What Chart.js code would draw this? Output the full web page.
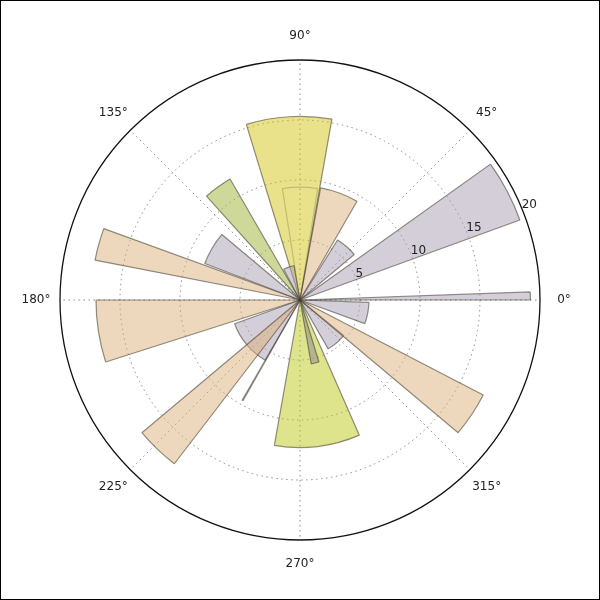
<!DOCTYPE html>
<html>
<head>
<meta charset="utf-8">
<title>Polar bar</title>
<script src="https://cdn.jsdelivr.net/npm/chart.js"></script>
<style>
  html, body { margin: 0; padding: 0; background: #fff; }
  #box { width: 600px; height: 600px; position: relative; }
</style>
</head>
<body>
<div id="box"><canvas id="polarBars"></canvas></div>
<script>
// Dados das barras (ângulo inicial e largura em graus, sentido anti-horário a partir de 0°)
const barStart = [0, 20, 40, 60, 80, 100, 120, 140, 160, 180, 200, 220, 240, 260, 280, 300, 320, 340, 81];
const barWidth = [2, 15.5, 18, 19.6, 27, 18, 12, 19, 9, 17.7, 40, 12.5, 0.5, 33.7, 7, 21, 12.6, 18, 18];
const barValue = [19.2, 19.5, 5.9, 9.5, 15.3, 2.9, 11.65, 8.5, 17.4, 17.0, 5.8, 17.2, 9.65, 12.3, 5.4, 4.7, 17.2, 5.75, 9.4];
// camada: barras que se sobrepõem ficam em outro dataset
const barLayer = [1, 1, 1, 1, 1, 0, 1, 1, 1, 1, 1, 0, 1, 1, 0, 1, 0, 1, 0];

const angleLabels = ['0°', '315°', '270°', '225°', '180°', '135°', '90°', '45°'];
const radialTicks = [5, 10, 15, 20];

// cores (separadas dos dados)
const gray = 'rgba(168,158,178,0.5)';
const peach = 'rgba(222,178,124,0.5)';
const yellow = 'rgba(212,198,22,0.5)';
const yGreen = 'rgba(190,202,26,0.5)';
const green = 'rgba(158,178,50,0.5)';
const dark = 'rgba(140,135,150,0.5)';
const barColors = [gray, gray, gray, peach, yellow, gray, green, gray, peach, peach,
                   gray, peach, gray, yGreen, dark, gray, peach, gray, 'rgba(0,0,0,0)'];
const edge = 'rgba(60,55,40,0.55)';

// monta um dataset com as barras de uma camada, preenchendo os espaços com valor 0
function montarDataset(layer) {
    let barras = [];
    for (let i = 0; i < barStart.length; i++) {
        if (barLayer[i] !== layer) continue;
        // Chart.js gira no sentido horário a partir de 0° (startAngle 90)
        barras.push({
            ini: 360 - barStart[i] - barWidth[i],
            larg: barWidth[i],
            valor: barValue[i],
            cor: barColors[i],
            borda: i === 18 ? 'rgba(60,55,40,0.22)' : edge
        });
    }
    barras.sort(function (a, b) { return a.ini - b.ini; });

    let valores = [], angulos = [], cores = [], bordas = [], larguras = [];
    let cursor = 0;
    barras.forEach(function (b) {
        if (b.ini - cursor > 0.01) {
            valores.push(0); angulos.push(b.ini - cursor);
            cores.push('rgba(0,0,0,0)'); bordas.push('rgba(0,0,0,0)'); larguras.push(0);
        }
        valores.push(b.valor); angulos.push(b.larg);
        cores.push(b.cor); bordas.push(b.borda); larguras.push(1.2);
        cursor = b.ini + b.larg;
    });
    if (360 - cursor > 0.01) {
        valores.push(0); angulos.push(360 - cursor);
        cores.push('rgba(0,0,0,0)'); bordas.push('rgba(0,0,0,0)'); larguras.push(0);
    }
    return {
        data: valores,
        angle: function (ctx) { return angulos[ctx.dataIndex]; },
        backgroundColor: cores,
        borderColor: bordas,
        borderWidth: larguras
    };
}

// rótulos de ângulo e do raio desenhados com as posições da escala
const rotulos = {
    id: 'rotulos',
    afterDraw(chart) {
        const ctx = chart.ctx;
        const scale = chart.scales.r;
        ctx.save();
        ctx.fillStyle = '#222';
        ctx.font = '12px "DejaVu Sans"';
        ctx.textAlign = 'center';
        ctx.textBaseline = 'middle';
        for (let i = 0; i < angleLabels.length; i++) {
            const p = scale.getPointPosition(i, scale.drawingArea * 1.1);
            ctx.fillText(angleLabels[i], p.x, p.y);
        }
        ctx.textAlign = 'left';
        ctx.textBaseline = 'alphabetic';
        radialTicks.forEach(function (v) {
            const d = scale.getDistanceFromCenterForValue(v);
            const p = scale.getPointPosition(0, d, -Math.PI / 8);
            ctx.fillText(String(v), p.x, p.y);
        });
        // moldura da figura
        ctx.strokeStyle = '#000';
        ctx.lineWidth = 1;
        ctx.strokeRect(0.5, 0.5, chart.width - 1, chart.height - 1);
        ctx.restore();
    }
};

const config = {
    type: 'polarArea',
    data: {
        labels: angleLabels,
        datasets: [montarDataset(0), montarDataset(1)]
    },
    options: {
        responsive: true,
        maintainAspectRatio: false,
        animation: false,
        layout: { padding: 60 },
        plugins: {
            legend: { display: false },
            tooltip: { enabled: false }
        },
        scales: {
            r: {
                z: 1,
                min: 0,
                max: 20,
                startAngle: 90,
                ticks: { stepSize: 5, display: false },
                pointLabels: { display: false },
                angleLines: {
                    display: true,
                    color: '#8a8a8a',
                    lineWidth: 1,
                    borderDash: [1.5, 3.5]
                },
                grid: {
                    circular: true,
                    color: function (ctx) { return ctx.tick && ctx.tick.value === 20 ? '#111' : '#8a8a8a'; },
                    lineWidth: function (ctx) { return ctx.tick && ctx.tick.value === 20 ? 1.3 : 1; }
                },
                border: {
                    dash: function (ctx) { return ctx.tick && ctx.tick.value === 20 ? [] : [1.5, 3.5]; }
                }
            }
        }
    },
    plugins: [rotulos]
};

let grafico = new Chart(document.getElementById('polarBars'), config);
</script>
</body>
</html>
